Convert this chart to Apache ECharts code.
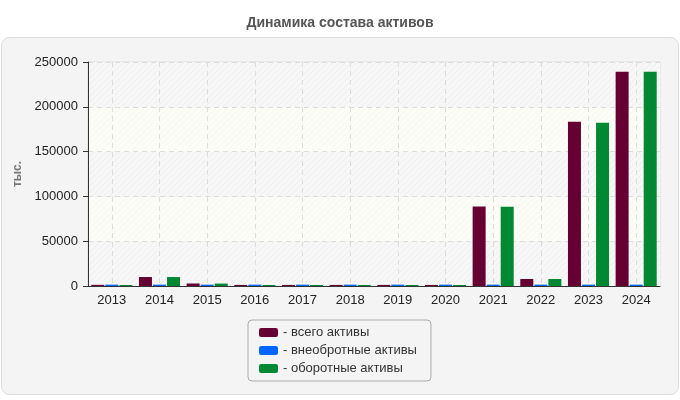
<!DOCTYPE html>
<html>
<head>
<meta charset="utf-8">
<script src="https://cdn.jsdelivr.net/npm/echarts@6/dist/echarts.min.js"></script>
<style>
html,body{margin:0;padding:0;background:#fff;}
#chart{width:680px;height:400px;}
</style>
</head>
<body>
<div id="chart"></div>
<script>
var categories = ['2013','2014','2015','2016','2017','2018','2019','2020','2021','2022','2023','2024'];
var seriesNames = ['всего активы','внеобротные активы','оборотные активы'];
var totalAssets = [1300, 10000, 2800, 1200, 1200, 1200, 1200, 1200, 88600, 7800, 183400, 239200];
var fixedAssets = [1500, 1500, 1500, 1500, 1500, 1500, 1500, 1500, 1500, 1500, 1500, 1500];
var currentAssets = [1100, 10000, 2700, 1100, 1100, 1100, 1100, 1100, 88500, 7800, 182300, 239200];
var yTicks = [0, 50000, 100000, 150000, 200000, 250000];
var colors = ['#660033', '#0066ff', '#008833'];

function hatch(base, line) {
  var c = document.createElement('canvas');
  c.width = 6; c.height = 6;
  var g = c.getContext('2d');
  g.fillStyle = base; g.fillRect(0, 0, 6, 6);
  g.strokeStyle = line; g.lineWidth = 1;
  g.beginPath();
  g.moveTo(0, 6); g.lineTo(6, 0);
  g.moveTo(-3, 3); g.lineTo(3, -3);
  g.moveTo(3, 9); g.lineTo(9, 3);
  g.stroke();
  return {image: c, repeat: 'repeat'};
}

var chart = echarts.init(document.getElementById('chart'));
var font = 'Liberation Sans, Arial, sans-serif';
chart.setOption({
  backgroundColor: '#ffffff',
  animation: false,
  textStyle: {fontFamily: font},
  title: {
    text: 'Динамика состава активов',
    left: 'center', top: 11,
    textStyle: {fontSize: 14, fontWeight: 'bold', color: '#555', fontFamily: font}
  },
  graphic: [{
    type: 'rect', z: -10, silent: true,
    shape: {x: 1.5, y: 37.5, width: 677, height: 357, r: 8},
    style: {fill: '#f4f4f4', stroke: '#dddddd', lineWidth: 1}
  }],
  legend: {
    orient: 'vertical',
    left: 248, top: 320,
    padding: [5, 14, 5, 11],
    backgroundColor: '#f4f4f4',
    borderColor: '#aaaaaa', borderWidth: 1, borderRadius: 4,
    itemWidth: 19, itemHeight: 9, itemGap: 3, itemTextGap: 2,
    icon: 'roundRect',
    formatter: '- {name}',
    textStyle: {fontSize: 13, color: '#333', lineHeight: 15, fontFamily: font},
    data: seriesNames
  },
  grid: {
    left: 88, right: 20, top: 62, bottom: 114,
    show: true, borderColor: '#dddddd', borderWidth: 1, backgroundColor: 'transparent'
  },
  xAxis: {
    type: 'category',
    data: categories,
    axisLine: {lineStyle: {color: '#333', width: 1}},
    axisTick: {show: false, alignWithLabel: true},
    axisLabel: {fontSize: 13, color: '#222', margin: 8},
    splitLine: {show: true, alignWithLabel: true, lineStyle: {color: '#dddddd', type: [5, 4], width: 1}}
  },
  yAxis: {
    type: 'value',
    min: 0, max: 250000, interval: 50000,
    name: 'тыс.',
    nameLocation: 'middle', nameGap: 63, nameRotate: 90,
    nameTextStyle: {fontSize: 12, fontWeight: 'bold', color: '#777'},
    axisLine: {show: true, lineStyle: {color: '#333', width: 1}},
    axisTick: {show: true, length: 5, lineStyle: {color: '#333'}},
    axisLabel: {fontSize: 13, color: '#222', margin: 10,
      formatter: function (v) { return yTicks.indexOf(v) >= 0 ? String(v) : ''; }},
    splitLine: {show: true, lineStyle: {color: '#dddddd', type: [5, 4], width: 1}},
    splitArea: {show: true, areaStyle: {color: [hatch('#f7f7f7', '#eeeeee'), hatch('#fdfdf8', '#f7f7f1')]}}
  },
  series: [
    {name: seriesNames[0], type: 'bar', data: totalAssets, barWidth: 13, barGap: '8%', itemStyle: {color: colors[0]}},
    {name: seriesNames[1], type: 'bar', data: fixedAssets, barWidth: 13, barGap: '8%', itemStyle: {color: colors[1]}},
    {name: seriesNames[2], type: 'bar', data: currentAssets, barWidth: 13, barGap: '8%', itemStyle: {color: colors[2]}}
  ]
});
</script>
</body>
</html>
